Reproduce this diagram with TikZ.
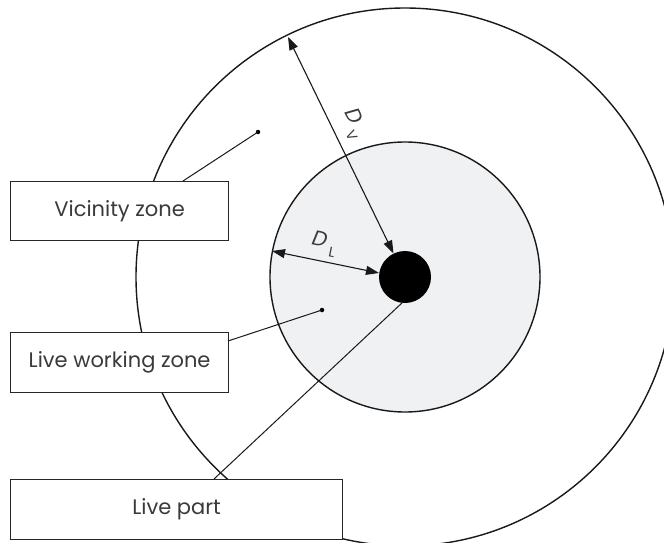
\documentclass[tikz,border=0pt]{standalone}
\usepackage{fontspec}
\setmainfont{Poppins}
\usetikzlibrary{arrows.meta}
\definecolor{zonegrey}{HTML}{F0F1F3}
\definecolor{txt}{HTML}{3A3A3A}
\tikzset{
  label box/.style={draw=black!85, line width=1.2pt, fill=white, inner sep=0pt, font=\fontsize{21}{24}\selectfont, text=txt},
  ring/.style={draw=black!90, line width=1.4pt},
  leader/.style={draw=black!90, line width=1pt},
  dim/.style={draw=black!90, line width=1.1pt, {Triangle[length=13pt,width=9pt]}-{Triangle[length=13pt,width=9pt]}},
  pin/.style={circle, fill=black, inner sep=0pt, minimum size=4.5pt},
  dimlab/.style={font=\fontsize{21}{24}\selectfont, text=txt, inner sep=1pt},
}
\newcommand{\dimsym}[1]{\textit{D}\kern4pt\raisebox{-0.7ex}{\fontsize{14}{15}\selectfont #1}}
\begin{document}
\begin{tikzpicture}[x=1pt,y=-1pt]
\useasboundingbox (0,0) rectangle (664,543);
\clip (0,0) rectangle (664,543);
% zones
\coordinate (c) at (405,277);
\draw[ring] (c) circle[radius=269];
\draw[ring, fill=zonegrey] (c) circle[radius=135];
\node[circle, fill=black, inner sep=0pt, minimum size=52pt] (live) at (c) {};
% dimension arrows
\coordinate (dvA) at (288,37);
\coordinate (dvB) at (393.5,253.5);
\draw[dim] (dvA) -- (dvB);
\coordinate (dlA) at (272,251);
\coordinate (dlB) at (379,273);
\draw[dim] (dlA) -- (dlB);
\node[dimlab, rotate=-64] (dvlab) at (354,124) {\dimsym{V}};
\node[dimlab, rotate=-12] (dllab) at (324,244) {\dimsym{L}};
% pins
\node[pin] (pv) at (258,132) {};
\node[pin] (pw) at (322,310) {};
\coordinate (pl) at (403,302);
% label boxes
\node[label box, minimum width=218pt, minimum height=59pt, anchor=north west] (vz) at (10,181) {Vicinity zone};
\node[label box, minimum width=218pt, minimum height=60pt, anchor=north west] (lwz) at (10,332) {Live working zone};
\node[label box, minimum width=332pt, minimum height=60pt, anchor=north west] (lp) at (10,479) {Live part};
% leaders
\coordinate (vzt) at (183,181);
\coordinate (lwzr) at (228,341);
\coordinate (lpt) at (214,479);
\draw[leader] (vzt) -- (pv.center);
\draw[leader] (lwzr) -- (pw.center);
\draw[leader] (lpt) -- (pl);
\end{tikzpicture}
\end{document}
